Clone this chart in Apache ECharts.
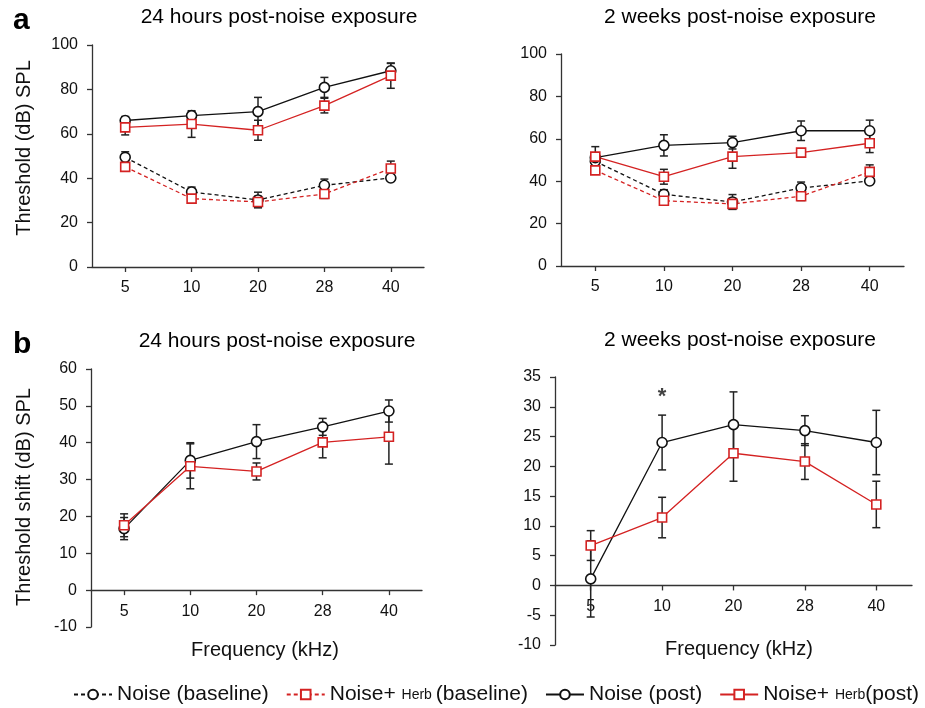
<!DOCTYPE html>
<html>
<head>
<meta charset="utf-8">
<script src="https://cdn.jsdelivr.net/npm/echarts@6/dist/echarts.min.js"></script>
<style>
html,body{margin:0;padding:0;background:#fff;}
#chart{width:925px;height:708px;}
</style>
</head>
<body>
<div id="chart"></div>
<script>
// ---- Data ----
const categories = ['5', '10', '20', '28', '40'];

// Panel a: thresholds (dB SPL)
const noiseBaseline      = [49.4, 33.8, 30.2, 36.8, 40.1];
const noiseBaselineErr   = [2.5, 2.2, 3.5, 2.8, 0.8];
const herbBaseline       = [45.1, 30.8, 29.3, 32.9, 44.4];
const herbBaselineErr    = [1.0, 1.0, 2.5, 2.0, 3.3];
const noisePost24h       = [66.0, 68.2, 70.0, 80.9, 88.4];
const noisePost24hErr    = [1.8, 1.5, 6.4, 4.5, 3.3];
const herbPost24h        = [62.9, 64.4, 61.6, 72.7, 86.2];
const herbPost24hErr     = [3.4, 6.0, 4.5, 3.3, 5.7];
const noisePost2w        = [51.1, 56.9, 58.2, 63.8, 63.8];
const noisePost2wErr     = [2.0, 5.0, 3.0, 4.6, 5.0];
const herbPost2w         = [51.6, 42.1, 51.6, 53.5, 57.9];
const herbPost2wErr      = [4.7, 3.5, 5.5, 1.5, 4.4];

// Panel b: threshold shifts (dB SPL)
const noiseShift24h      = [16.7, 35.2, 40.3, 44.3, 48.6];
const noiseShift24hErr   = [3.0, 4.8, 4.6, 2.3, 3.0];
const herbShift24h       = [17.6, 33.6, 32.2, 40.1, 41.6];
const herbShift24hErr    = [3.1, 6.1, 2.3, 4.2, 7.4];
const noiseShift2w       = [1.1, 24.0, 27.0, 26.0, 24.0];
const noiseShift2wErr    = [6.4, 4.6, 5.5, 2.5, 5.4];
const herbShift2w        = [6.7, 11.4, 22.2, 20.8, 13.6];
const herbShift2wErr     = [2.5, 3.4, 4.7, 3.0, 3.9];

const asteriskMarks = [['10', 32]];

const seriesNames = ['Noise (baseline)', 'Noise+ Herb (baseline)', 'Noise (post)', 'Noise+ Herb (post)'];
const legendLabels = {
  'Noise (baseline)': 'Noise (baseline)',
  'Noise+ Herb (baseline)': 'Noise+ {s|Herb }(baseline)',
  'Noise (post)': 'Noise (post)',
  'Noise+ Herb (post)': 'Noise+ {s|Herb}(post)'
};
const panelTitles = ['24 hours post-noise exposure', '2 weeks post-noise exposure',
                     '24 hours post-noise exposure', '2 weeks post-noise exposure'];
const yTitles = ['Threshold (dB) SPL', 'Threshold shift (dB) SPL'];
const xTitle = 'Frequency (kHz)';

// ---- Styles ----
const FONT = '"Liberation Sans", Arial, Helvetica, sans-serif';
const BLACK = '#111111';
const RED = '#d42222';
const AXIS = '#333333';

function lineSeries(name, grid, values, color, dashed, symbol) {
  return {
    name: name, type: 'line', xAxisIndex: grid, yAxisIndex: grid,
    data: values, z: 3,
    symbol: symbol, symbolSize: symbol === 'rect' ? 9 : 10,
    showAllSymbol: true,
    lineStyle: { color: color, width: 1.3, type: dashed ? [4, 3] : 'solid' },
    itemStyle: { color: '#ffffff', borderColor: color, borderWidth: 1.6 },
    emphasis: { disabled: true }
  };
}

function errSeries(grid, values, errs) {
  return {
    type: 'custom', xAxisIndex: grid, yAxisIndex: grid, z: 2,
    data: values.map((v, i) => [i, v - errs[i], v + errs[i]]),
    encode: { x: 0, y: [1, 2] },
    silent: true,
    renderItem: function (params, api) {
      const x = api.value(0);
      const top = api.coord([x, api.value(2)]);
      const bot = api.coord([x, api.value(1)]);
      const hw = 4;
      const st = { stroke: '#222', lineWidth: 1.5 };
      return {
        type: 'group',
        children: [
          { type: 'line', shape: { x1: top[0], y1: top[1], x2: bot[0], y2: bot[1] }, style: st },
          { type: 'line', shape: { x1: top[0] - hw, y1: top[1], x2: top[0] + hw, y2: top[1] }, style: st },
          { type: 'line', shape: { x1: bot[0] - hw, y1: bot[1], x2: bot[0] + hw, y2: bot[1] }, style: st }
        ]
      };
    }
  };
}

const panelSets = [
  [[0, noiseBaseline, noiseBaselineErr, BLACK, true, 'circle'],
   [1, herbBaseline, herbBaselineErr, RED, true, 'rect'],
   [2, noisePost24h, noisePost24hErr, BLACK, false, 'circle'],
   [3, herbPost24h, herbPost24hErr, RED, false, 'rect']],
  [[0, noiseBaseline, noiseBaselineErr, BLACK, true, 'circle'],
   [1, herbBaseline, herbBaselineErr, RED, true, 'rect'],
   [2, noisePost2w, noisePost2wErr, BLACK, false, 'circle'],
   [3, herbPost2w, herbPost2wErr, RED, false, 'rect']],
  [[2, noiseShift24h, noiseShift24hErr, BLACK, false, 'circle'],
   [3, herbShift24h, herbShift24hErr, RED, false, 'rect']],
  [[2, noiseShift2w, noiseShift2wErr, BLACK, false, 'circle'],
   [3, herbShift2w, herbShift2wErr, RED, false, 'rect']]
];

const series = [];
panelSets.forEach((sets, g) => {
  sets.forEach(s => series.push(errSeries(g, s[1], s[2])));
  sets.forEach(s => series.push(lineSeries(seriesNames[s[0]], g, s[1], s[3], s[4], s[5])));
});
series.push({
  type: 'scatter', xAxisIndex: 3, yAxisIndex: 3, data: asteriskMarks,
  symbolSize: 1, itemStyle: { color: 'rgba(0,0,0,0)' }, silent: true, z: 5,
  label: { show: true, position: 'inside', formatter: '*', fontSize: 22, fontWeight: 'bold',
           color: BLACK, fontFamily: FONT, offset: [0, 2] }
});

const grids = [
  { left: 92, top: 45, width: 332, height: 222 },
  { left: 561, top: 54, width: 343, height: 212 },
  { left: 91, top: 369, width: 331, height: 258 },
  { left: 555, top: 377, width: 357, height: 268 }
];
const yRanges = [[0, 100, 20], [0, 100, 20], [-10, 60, 10], [-10, 35, 5]];

// x axis sits on y = 0: shift it up from the grid bottom by the share of the range below zero
const xAxes = grids.map((g, i) => ({
  gridIndex: i, type: 'category', data: categories, boundaryGap: true,
  position: 'bottom',
  offset: -g.height * (0 - yRanges[i][0]) / (yRanges[i][1] - yRanges[i][0]),
  axisLine: { show: true, onZero: false, lineStyle: { color: AXIS, width: 1.3 } },
  axisTick: { show: true, alignWithLabel: true, length: 5, lineStyle: { color: AXIS, width: 1.3 } },
  axisLabel: { fontSize: 16, color: BLACK, margin: 13, fontFamily: FONT },
  splitLine: { show: false }
}));
const yAxes = yRanges.map((r, i) => ({
  gridIndex: i, type: 'value', min: r[0], max: r[1], interval: r[2],
  axisLine: { show: true, lineStyle: { color: AXIS, width: 1.3 } },
  axisTick: { show: true, length: 5, lineStyle: { color: AXIS, width: 1.3 } },
  axisLabel: { fontSize: 16, color: BLACK, margin: 14, fontFamily: FONT },
  splitLine: { show: false }
}));

const titleStyle = { fontSize: 21, fontWeight: 'normal', color: '#000', fontFamily: FONT };
const titles = [
  { text: 'a', left: 13, top: 6, padding: 0, textStyle: { fontSize: 30, fontWeight: 'bold', color: '#000', fontFamily: FONT } },
  { text: 'b', left: 13, top: 330, padding: 0, textStyle: { fontSize: 30, fontWeight: 'bold', color: '#000', fontFamily: FONT } },
  { text: panelTitles[0], left: 279, top: 7, padding: 0, textAlign: 'center', textStyle: titleStyle },
  { text: panelTitles[1], left: 740, top: 7, padding: 0, textAlign: 'center', textStyle: titleStyle },
  { text: panelTitles[2], left: 277, top: 331, padding: 0, textAlign: 'center', textStyle: titleStyle },
  { text: panelTitles[3], left: 740, top: 330, padding: 0, textAlign: 'center', textStyle: titleStyle }
];

function gText(text, x, y, rot) {
  return {
    type: 'text', x: x, y: y, rotation: rot || 0, silent: true,
    style: { text: text, fontSize: 20, fontFamily: FONT, fill: BLACK, align: 'center', verticalAlign: 'middle' }
  };
}

const option = {
  animation: false,
  backgroundColor: '#ffffff',
  textStyle: { fontFamily: FONT },
  title: titles,
  grid: grids,
  xAxis: xAxes,
  yAxis: yAxes,
  legend: {
    data: seriesNames, left: 68, top: 679, itemWidth: 38, itemHeight: 12, itemGap: 17,
    selectedMode: false,
    textStyle: { fontSize: 21, color: BLACK, fontFamily: FONT,
                 rich: { s: { fontSize: 14, color: BLACK, fontFamily: FONT, verticalAlign: 'middle', padding: [2, 0, 0, 0] } } },
    formatter: name => legendLabels[name]
  },
  graphic: [
    gText(yTitles[0], 24, 148, Math.PI / 2),
    gText(yTitles[1], 24, 497, Math.PI / 2),
    gText(xTitle, 265, 650, 0),
    gText(xTitle, 739, 649, 0)
  ],
  series: series
};

const chart = echarts.init(document.getElementById('chart'), null, { renderer: 'canvas' });
chart.setOption(option);
</script>
</body>
</html>
